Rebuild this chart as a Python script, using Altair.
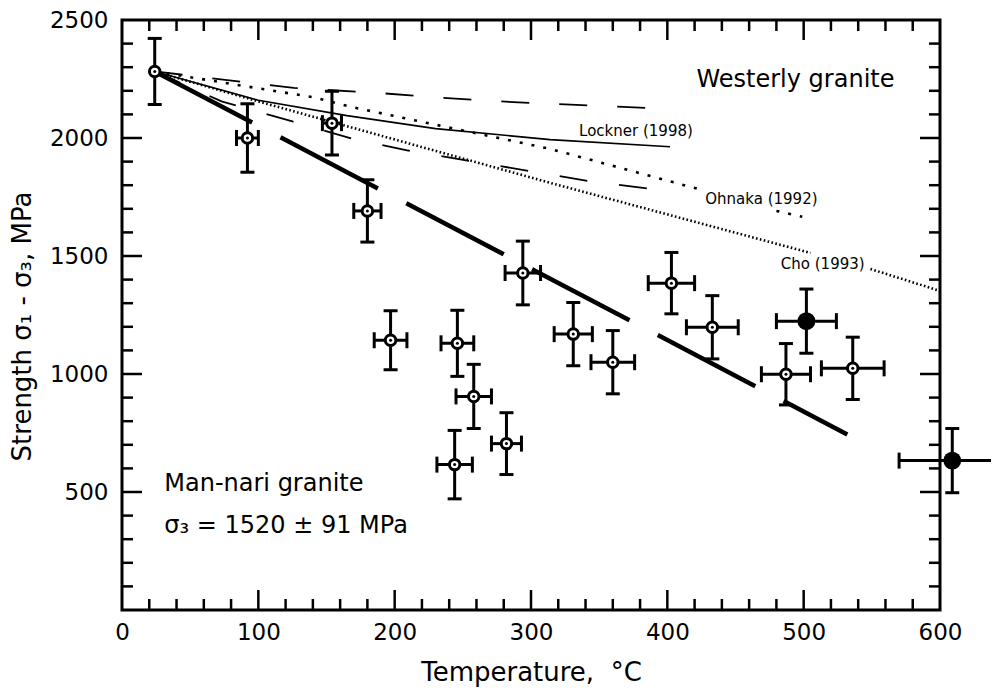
import altair as alt
import pandas as pd

# ---------------- data ----------------
# Man-nari granite experiments
temp      = [24, 92, 154, 180, 294, 197, 246, 258, 282, 244, 331, 360, 403, 433, 487, 536, 502, 609]
strength  = [2282, 2000, 2063, 1691, 1428, 1143, 1130, 905, 705, 616, 1169, 1050, 1385, 1198, 999, 1024, 1224, 633]
temp_err  = [0, 8, 7, 10, 13, 12, 12, 13, 11, 13, 14, 16, 17, 19, 18, 23, 22, 39]
str_err   = [140, 145, 135, 132, 135, 125, 140, 136, 131, 145, 134, 134, 130, 134, 130, 132, 136, 136]
marker    = ["open"] * 16 + ["filled", "filled"]

# trend line through Man-nari data
trend_T = [24, 532]
trend_S = [2282, 744]

# Westerly granite curves
upper_dash_T = [24, 126, 190, 235, 287, 402]
upper_dash_S = [2282, 2212, 2190, 2170, 2152, 2123]
lower_dash_T = [24, 73, 125, 171, 210, 345, 400]
lower_dash_S = [2282, 2155, 2070, 1993, 1947, 1815, 1776]
lockner_T = [24, 100, 165, 230, 314, 402]
lockner_S = [2282, 2160, 2095, 2040, 1993, 1963]
ohnaka_T1 = [24, 140, 167, 314, 422]
ohnaka_S1 = [2282, 2173, 2133, 1954, 1785]
ohnaka_T2 = [480, 499]
ohnaka_S2 = [1691, 1666]
cho_T1 = [24, 103, 314, 505]
cho_S1 = [2282, 2150, 1810, 1513]
cho_T2 = [549, 600]
cho_S2 = [1445, 1352]

# axis ticks
x_labels = [0, 100, 200, 300, 400, 500, 600]
y_labels = [500, 1000, 1500, 2000, 2500]
x_major = [100, 200, 300, 400, 500]
x_minor = [t for t in range(20, 600, 20) if t % 100 != 0]
y_major = [500, 1000, 1500, 2000]
y_minor = [s for s in range(100, 2500, 100) if s % 500 != 0]

# annotations
ann_text = ["Westerly granite", "Man-nari granite", "σ₃ = 1520 ± 91 MPa"]
ann_T = [494, 31, 31]
ann_S = [2247, 532, 355]
ann_align = ["center", "left", "left"]
curve_text = ["Lockner (1998)", "Ohnaka (1992)", "Cho (1993)"]
curve_T = [377, 469, 514]
curve_S = [2031, 1740, 1465]

# ---------------- tables ----------------
pts = pd.DataFrame({"T": temp, "S": strength, "dT": temp_err, "dS": str_err, "m": marker})
pts["Slo"] = pts["S"] - pts["dS"]
pts["Shi"] = pts["S"] + pts["dS"]
pts["Tlo"] = pts["T"] - pts["dT"]
pts["Thi"] = pts["T"] + pts["dT"]

rows = []
def add(name, seg, Ts, Ss):
    for t, s in zip(Ts, Ss):
        rows.append({"series": name, "seg": seg, "T": t, "S": s})
add("trend", 1, trend_T, trend_S)
add("upper", 1, upper_dash_T, upper_dash_S)
add("lower", 1, lower_dash_T, lower_dash_S)
add("lockner", 1, lockner_T, lockner_S)
add("ohnaka", 1, ohnaka_T1, ohnaka_S1)
add("ohnaka", 2, ohnaka_T2, ohnaka_S2)
add("cho", 1, cho_T1, cho_S1)
add("cho", 2, cho_T2, cho_S2)
lines = pd.DataFrame(rows)

ann = pd.DataFrame({"txt": ann_text, "T": ann_T, "S": ann_S, "al": ann_align})
cur = pd.DataFrame({"txt": curve_text, "T": curve_T, "S": curve_S})

W, H = 818, 590
FONT = "DejaVu Sans"

xs = alt.Scale(domain=[0, 600], nice=False, zero=False)
ys = alt.Scale(domain=[0, 2500], nice=False, zero=False)
xaxis = alt.Axis(values=x_labels, ticks=False, domain=False, grid=False, labelFlush=False,
                 labelOverlap=False, labelFont=FONT, labelFontSize=23, labelPadding=11,
                 labelColor="black", titleFont=FONT, titleFontSize=26, titleFontWeight="normal",
                 titleColor="black", titleY=70, titleBaseline="alphabetic", format="d")
yaxis = alt.Axis(values=y_labels, ticks=False, domain=False, grid=False, labelFlush=False,
                 labelOverlap=False, labelFont=FONT, labelFontSize=23, labelPadding=14,
                 labelColor="black", titleFont=FONT, titleFontSize=26, titleFontWeight="normal",
                 titleColor="black", titleX=-100, titleY=306, titleAngle=270,
                 titleAlign="center", titleBaseline="middle", format="d")
XT = "Temperature,\u00a0 °C"
YT = "Strength σ₁ - σ₃, MPa"

def X(f):
    return alt.X(f, type="quantitative", scale=xs, axis=xaxis, title=XT)

def Y(f):
    return alt.Y(f, type="quantitative", scale=ys, axis=yaxis, title=YT)

def line_layer(name, **mk):
    return alt.Chart(lines).transform_filter(alt.datum.series == name).mark_line(
        color="black", **mk).encode(x=X("T"), y=Y("S"), detail="seg:N", order="T:Q")

layers = [
    line_layer("upper", strokeWidth=1.8, strokeDash=[28, 30]),
    line_layer("lower", strokeWidth=1.8, strokeDash=[28, 32]),
    line_layer("lockner", strokeWidth=1.7),
    line_layer("ohnaka", strokeWidth=2.6, strokeDash=[3, 9]),
    line_layer("cho", strokeWidth=2.6, strokeDash=[1.6, 2.4]),
    line_layer("trend", strokeWidth=4.5, strokeDash=[110, 32]),
]

# inward ticks on all four sides
xmaj = pd.DataFrame({"T": x_major})
xmin = pd.DataFrame({"T": x_minor})
ymaj = pd.DataFrame({"S": y_major})
ymin = pd.DataFrame({"S": y_minor})
tk = dict(color="black", strokeWidth=2.5)
for df, ln in ((xmaj, 20), (xmin, 11)):
    layers.append(alt.Chart(df).mark_rule(**tk).encode(x=X("T"), y=alt.value(0), y2=alt.value(ln)))
    layers.append(alt.Chart(df).mark_rule(**tk).encode(x=X("T"), y=alt.value(H), y2=alt.value(H - ln)))
for df, ln in ((ymaj, 20), (ymin, 11)):
    layers.append(alt.Chart(df).mark_rule(**tk).encode(y=Y("S"), x=alt.value(0), x2=alt.value(ln)))
    layers.append(alt.Chart(df).mark_rule(**tk).encode(y=Y("S"), x=alt.value(W), x2=alt.value(W - ln)))

# error bars
base = alt.Chart(pts)
layers += [
    base.mark_rule(color="black", strokeWidth=3).encode(x=X("T"), y=Y("Slo"), y2="Shi"),
    base.transform_filter(alt.datum.dT > 0).mark_rule(color="black", strokeWidth=3).encode(
        x=X("Tlo"), x2="Thi", y=Y("S")),
    base.mark_tick(orient="horizontal", color="black", size=14, thickness=3, opacity=1).encode(x=X("T"), y=Y("Slo")),
    base.mark_tick(orient="horizontal", color="black", size=14, thickness=3, opacity=1).encode(x=X("T"), y=Y("Shi")),
    base.transform_filter(alt.datum.dT > 0).mark_tick(orient="vertical", color="black", size=16,
        thickness=3, opacity=1).encode(x=X("Tlo"), y=Y("S")),
    base.transform_filter("datum.dT > 0 && datum.Thi < 620").mark_tick(orient="vertical", color="black",
        size=16, thickness=3, opacity=1).encode(x=X("Thi"), y=Y("S")),
]

# markers
layers += [
    base.transform_filter(alt.datum.m == "open").mark_point(shape="circle", filled=False, fill="white",
        fillOpacity=1, stroke="black", strokeWidth=3, size=110, opacity=1).encode(x=X("T"), y=Y("S")),
    base.transform_filter(alt.datum.m == "open").mark_point(shape="circle", filled=True, color="black",
        size=9, opacity=1).encode(x=X("T"), y=Y("S")),
    base.transform_filter(alt.datum.m == "filled").mark_point(shape="circle", filled=True, color="black",
        size=320, opacity=1).encode(x=X("T"), y=Y("S")),
]

# annotations
layers += [
    alt.Chart(ann).transform_filter(alt.datum.al == "center").mark_text(
        font=FONT, fontSize=24, color="black", align="center", baseline="middle").encode(
        x=X("T"), y=Y("S"), text="txt"),
    alt.Chart(ann).transform_filter(alt.datum.al == "left").mark_text(
        font=FONT, fontSize=24, color="black", align="left", baseline="middle").encode(
        x=X("T"), y=Y("S"), text="txt"),
    alt.Chart(cur).mark_text(font=FONT, fontSize=15, color="black", align="center",
        baseline="middle").encode(x=X("T"), y=Y("S"), text="txt"),
]

chart = alt.layer(*layers).properties(
    width=W, height=H,
    autosize=alt.AutoSizeParams(type="none"),
    padding={"left": 114, "top": 12, "right": 51, "bottom": 78},
    background="white",
).configure_view(stroke="black", strokeWidth=3)

chart.save("out.html", embed_options={"renderer": "svg", "actions": False})
